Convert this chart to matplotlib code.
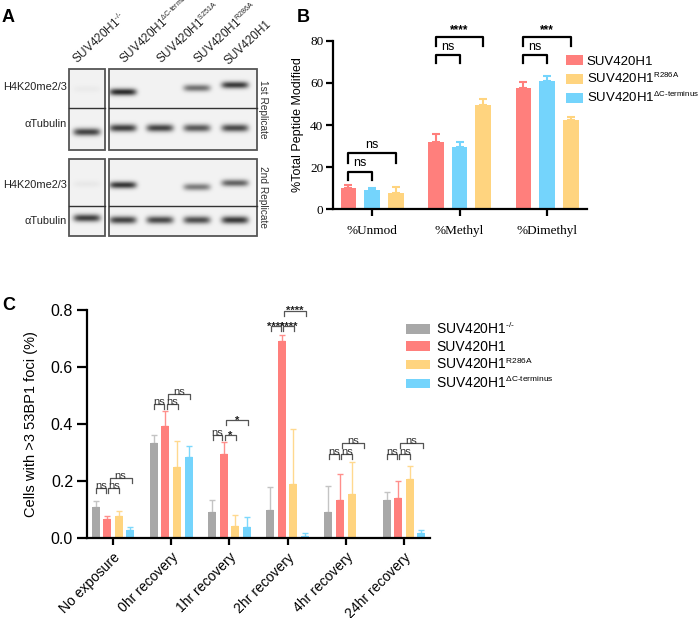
import numpy as np
import matplotlib
matplotlib.use("Agg")
import matplotlib.pyplot as plt
from matplotlib.patches import Rectangle
try:
    import matplotlib._mathtext as _mt
    _mt.SHRINK_FACTOR = 0.6
except Exception:
    pass

plt.rcParams['font.family'] = ['Liberation Sans', 'DejaVu Sans']
plt.rcParams['mathtext.fontset'] = 'custom'
plt.rcParams['mathtext.rm'] = 'Liberation Sans'
plt.rcParams['mathtext.it'] = 'Liberation Sans:italic'
plt.rcParams['mathtext.bf'] = 'Liberation Sans:bold'

# ---------------- Panel A data (relative band intensities) ----------------
blot_lanes = [r"SUV420H1$^{\text{-/-}}$", r"SUV420H1$^{\text{ΔC-terminus}}$",
              r"SUV420H1$^{\text{S251A}}$", r"SUV420H1$^{\text{R286A}}$", "SUV420H1"]
rep1_h4k20 = [0.03, 0.78, 0.0, 0.50, 0.72]
rep1_tub = [0.68, 0.70, 0.68, 0.60, 0.66]
rep2_h4k20 = [0.04, 0.74, 0.0, 0.46, 0.56]
rep2_tub = [0.70, 0.68, 0.66, 0.64, 0.72]

# ---------------- Panel B data ----------------
b_groups = ["%Unmod", "%Methyl", "%Dimethyl"]
b_wt = [10.0, 31.9, 57.4]
b_wt_err = [1.4, 3.8, 2.8]
b_dc = [9.2, 29.6, 61.0]
b_dc_err = [1.1, 2.2, 2.1]
b_r286a = [7.6, 49.3, 42.5]
b_r286a_err = [2.8, 2.9, 1.5]
b_sig_short = ["ns", "ns", "ns"]
b_sig_long = ["ns", "****", "***"]

# ---------------- Panel C data ----------------
c_groups = ["No exposure", "0hr recovery", "1hr recovery", "2hr recovery",
            "4hr recovery", "24hr recovery"]
c_ko = [0.109, 0.332, 0.091, 0.099, 0.091, 0.132]
c_ko_err = [0.022, 0.029, 0.043, 0.081, 0.093, 0.028]
c_wt = [0.066, 0.394, 0.295, 0.691, 0.135, 0.140]
c_wt_err = [0.011, 0.052, 0.041, 0.020, 0.090, 0.060]
c_r286a = [0.076, 0.248, 0.043, 0.191, 0.153, 0.207]
c_r286a_err = [0.020, 0.091, 0.038, 0.191, 0.112, 0.044]
c_dc = [0.027, 0.284, 0.039, 0.006, 0.0, 0.018]
c_dc_err = [0.010, 0.040, 0.033, 0.011, 0.0, 0.009]
c_sig_ko_wt = ["ns", "ns", "ns", "****", "ns", "ns"]
c_sig_wt_r = ["ns", "ns", "*", "****", "ns", "ns"]
c_sig_wt_dc = ["ns", "ns", "*", "****", "ns", "ns"]
c_sig_level = [0.175, 0.470, 0.361, 0.744, 0.295, 0.295]
c_sig_level_long = [0.212, 0.505, 0.414, 0.797, 0.333, 0.333]

RED = '#FF7F7C'
YEL = '#FFD47F'
BLU = '#74D4FC'
GRY = '#A8A8A8'

W, H = 700, 618
fig = plt.figure(figsize=(7.0, 6.18), dpi=100)

# overlay in pixel coords for panel A and letters
ov = fig.add_axes([0, 0, 1, 1])
ov.set_xlim(0, W)
ov.set_ylim(H, 0)
ov.axis('off')


def blot(x0, x1, y0, y1, lane_x, amps, ycent, halfw=13.5, sig_y=3.8, bg=0.95):
    res = 3
    w = int((x1 - x0) * res)
    h = int((y1 - y0) * res)
    xs = x0 + (np.arange(w) + 0.5) / res
    ys = y0 + (np.arange(h) + 0.5) / res
    X, Y = np.meshgrid(xs, ys)
    img = np.full((h, w), bg)
    for lx, a, yc in zip(lane_x, amps, ycent):
        prof = np.exp(-np.abs((X - lx) / halfw) ** 5) * np.exp(-((Y - yc) / sig_y) ** 2)
        img = img - a * prof
    ov.imshow(img, extent=(x0, x1, y1, y0), cmap='gray', vmin=0, vmax=1,
              interpolation='bilinear', aspect='auto', zorder=1)


box1 = (69, 105)
box2 = (109, 257)
lane1 = [87]
lanes2 = [123, 160, 197, 235]
reps = [
    (69, 108, 150, rep1_h4k20, rep1_tub, [89, 92, 90, 88, 85], [132, 128, 128, 128, 128]),
    (159, 206, 236, rep2_h4k20, rep2_tub, [184, 185, 186, 187, 183], [218, 220, 220, 220, 220]),
]
for (yt, ym, yb, h4, tub, yh, ytb) in reps:
    blot(box1[0], box1[1], yt, ym, lane1, h4[:1], yh[:1], sig_y=3.5)
    blot(box1[0], box1[1], ym, yb, lane1, tub[:1], ytb[:1])
    blot(box2[0], box2[1], yt, ym, lanes2, h4[1:], yh[1:], sig_y=3.5)
    blot(box2[0], box2[1], ym, yb, lanes2, tub[1:], ytb[1:])
    for (bx0, bx1) in (box1, box2):
        ov.add_patch(Rectangle((bx0, yt), bx1 - bx0, yb - yt, fill=False,
                               ec='#555555', lw=1.3, zorder=3))
        ov.plot([bx0, bx1], [ym, ym], color='#333333', lw=1.0, zorder=3)

for yy, lab in [(87, "H4K20me2/3"), (124, "αTubulin"), (185, "H4K20me2/3"), (221, "αTubulin")]:
    ov.text(67, yy, lab, ha='right', va='center', fontsize=7.9, color='#222222')
ov.text(263, 109, "1st Replicate", rotation=-90, ha='center', va='center', fontsize=7.3, color='#333333')
ov.text(263, 197, "2nd Replicate", rotation=-90, ha='center', va='center', fontsize=7.3, color='#333333')

lab_x = [80, 127, 164, 201, 231]
for lx, lab in zip(lab_x, blot_lanes):
    ov.text(lx, 67, lab, rotation=43, rotation_mode='anchor', ha='left', va='bottom',
            fontsize=8.5, color='#222222')

for (tx, ty, t) in [(2, 22, "A"), (297, 22, "B"), (2, 310, "C")]:
    ov.text(tx, ty, t, fontsize=13, fontweight='bold', ha='left', va='baseline')

# ---------------- Panel B ----------------
axB = fig.add_axes([333 / W, 1 - 209.3 / H, 254 / W, 168.6 / H])
axB.set_facecolor('none')
xb = np.arange(len(b_groups))
off, bw = 0.27, 0.18
series_B = [(b_wt, b_wt_err, RED, "SUV420H1", -1),
            (b_r286a, b_r286a_err, YEL, r"SUV420H1$^{\text{R286A}}$", 1),
            (b_dc, b_dc_err, BLU, r"SUV420H1$^{\text{ΔC-terminus}}$", 0)]
handles_B = []
for vals, errs, col, lab, k in series_B:
    pos = xb + k * off
    bars = axB.bar(pos, vals, width=bw, color=col, edgecolor='none', label=lab, zorder=2)
    axB.errorbar(pos, vals, yerr=[np.zeros(len(vals)), errs], fmt='none', ecolor=col,
                 elinewidth=1.5, capsize=3, capthick=1.5, zorder=1)
    handles_B.append(bars)
axB.set_xlim(-0.446, 2.457)
axB.set_ylim(0, 80)
axB.set_yticks([0, 20, 40, 60, 80])
axB.set_xticks(xb)
axB.set_xticklabels(b_groups, family='Liberation Serif', fontsize=9.5)
for t in axB.get_yticklabels():
    t.set_family('Liberation Serif')
    t.set_fontsize(9.5)
for s in ['top', 'right']:
    axB.spines[s].set_visible(False)
for s in ['left', 'bottom']:
    axB.spines[s].set_linewidth(1.6)
axB.tick_params(axis='y', width=1.6, length=5, pad=2)
axB.tick_params(axis='x', width=1.6, length=5, pad=6)
axB.set_ylabel("%Total Peptide Modified", fontsize=9, labelpad=4)

short_top = [17.9, 73.2, 73.2]
long_top = [26.6, 81.9, 81.9]
for i in range(3):
    x1, x2, x3 = xb[i] - off, xb[i], xb[i] + off
    y = short_top[i]
    axB.plot([x1, x1, x2, x2], [y - 4, y, y, y - 4], color='black', lw=1.6, clip_on=False)
    axB.text((x1 + x2) / 2, y + 1.2, b_sig_short[i], ha='center', va='bottom', fontsize=9)
    y = long_top[i]
    axB.plot([x1, x1, x3, x3], [y - 4.5, y, y, y - 4.5], color='black', lw=1.6, clip_on=False)
    lab = b_sig_long[i]
    if lab == 'ns':
        axB.text((x1 + x3) / 2, y + 1.2, lab, ha='center', va='bottom', fontsize=9)
    else:
        axB.text((x1 + x3) / 2, y + 0.3, lab, ha='center', va='bottom', fontsize=8.5,
                 fontweight='bold')

axB.legend(handles=handles_B, loc='upper left', bbox_to_anchor=(566 / W, 1 - 55 / H),
           bbox_transform=fig.transFigure, frameon=False, fontsize=9.5,
           handlelength=1.3, handleheight=0.78, handletextpad=0.28, labelspacing=0.35,
           borderaxespad=0, borderpad=0)

# ---------------- Panel C ----------------
axC = fig.add_axes([87 / W, 1 - 538 / H, 343 / W, 228 / H])
axC.set_facecolor('none')
xc = np.arange(len(c_groups))
pitch, cw = 0.2, 0.137
series_C = [(c_ko, c_ko_err, GRY, '#C4C4C4', r"SUV420H1$^{\text{-/-}}$"),
            (c_wt, c_wt_err, RED, '#FF8F8C', "SUV420H1"),
            (c_r286a, c_r286a_err, YEL, '#FFD98F', r"SUV420H1$^{\text{R286A}}$"),
            (c_dc, c_dc_err, BLU, '#7DD8FC', r"SUV420H1$^{\text{ΔC-terminus}}$")]
handles_C = []
for j, (vals, errs, col, ecol, lab) in enumerate(series_C):
    pos = xc + (j - 1.5) * pitch
    bars = axC.bar(pos, vals, width=cw, color=col, edgecolor='none', label=lab, zorder=2)
    axC.errorbar(pos, vals, yerr=[np.zeros(len(vals)), errs], fmt='none', ecolor=ecol,
                 elinewidth=1.0, capsize=2.5, capthick=1.0, zorder=1)
    handles_C.append(bars)
axC.set_xlim(-0.447, 5.447)
axC.set_ylim(0, 0.8)
axC.set_yticks([0.0, 0.2, 0.4, 0.6, 0.8])
axC.set_yticklabels(["0.0", "0.2", "0.4", "0.6", "0.8"], fontsize=11.5)
axC.set_xticks(xc)
axC.set_xticklabels(c_groups, rotation=45, ha='right', rotation_mode='anchor', fontsize=10)
for s in ['top', 'right']:
    axC.spines[s].set_visible(False)
for s in ['left', 'bottom']:
    axC.spines[s].set_linewidth(1.6)
axC.tick_params(axis='y', width=1.6, length=7, pad=3)
axC.tick_params(axis='x', width=1.6, length=5, pad=4)
axC.set_ylabel("Cells with >3 53BP1 foci (%)", fontsize=10.5, labelpad=9)

BRC = '#555555'
for i in range(len(c_groups)):
    c0, c1, c2, c3 = [xc[i] + (j - 1.5) * pitch for j in range(4)]
    drop = 0.018
    y = c_sig_level[i]
    for (xa, xb_, lab) in [(c0 + 0.01, c1 - 0.02, c_sig_ko_wt[i]), (c1 + 0.02, c2 + 0.01, c_sig_wt_r[i])]:
        axC.plot([xa, xa, xb_, xb_], [y - drop, y, y, y - drop], color=BRC, lw=0.9, clip_on=False)
        if lab == 'ns':
            axC.text((xa + xb_) / 2, y - 0.004, lab, ha='center', va='baseline', fontsize=8, color='#333333')
        else:
            axC.text((xa + xb_) / 2, y - 0.012, lab, ha='center', va='baseline', fontsize=8,
                     fontweight='bold', color='#222222')
    y = c_sig_level_long[i]
    xa, xb_ = c1 + 0.04, c3 + 0.02
    lab = c_sig_wt_dc[i]
    axC.plot([xa, xa, xb_, xb_], [y - drop, y, y, y - drop], color=BRC, lw=0.9, clip_on=False)
    if lab == 'ns':
        axC.text((xa + xb_) / 2, y - 0.004, lab, ha='center', va='baseline', fontsize=8, color='#333333')
    else:
        axC.text((xa + xb_) / 2, y - 0.012, lab, ha='center', va='baseline', fontsize=8,
                 fontweight='bold', color='#222222')

axC.legend(handles=handles_C, loc='upper left', bbox_to_anchor=(406 / W, 1 - 321 / H),
           bbox_transform=fig.transFigure, frameon=False, fontsize=10,
           handlelength=1.75, handleheight=0.72, handletextpad=0.4, labelspacing=0.2,
           borderaxespad=0, borderpad=0)

fig.savefig("out.png", dpi=100)
